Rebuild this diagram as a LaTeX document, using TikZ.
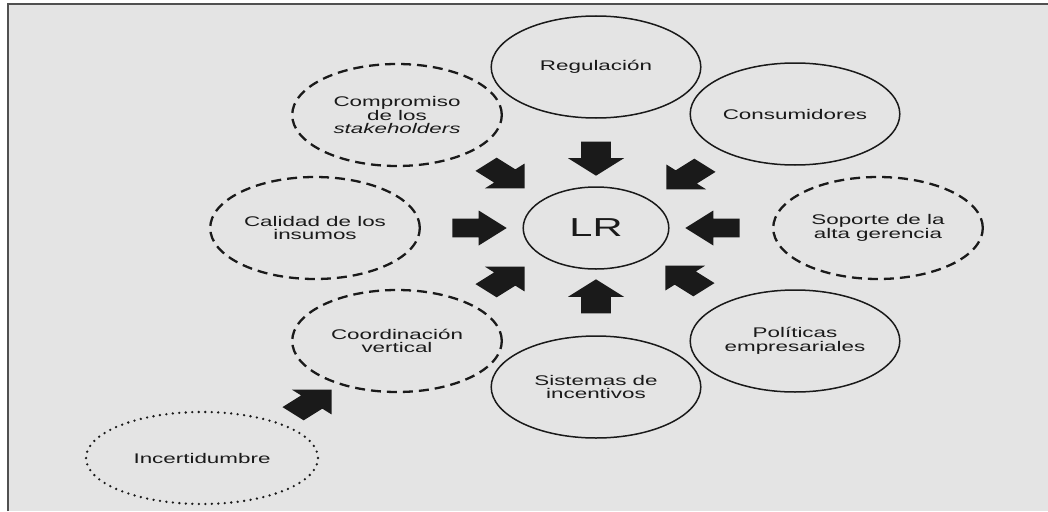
\documentclass[tikz,border=0pt]{standalone}
\usepackage{fontspec}
\setmainfont{Liberation Sans}
\usetikzlibrary{shapes.geometric,shapes.arrows}

\definecolor{bggray}{RGB}{228,228,228}
\definecolor{framegray}{RGB}{80,80,80}
\definecolor{ink}{RGB}{26,26,26}

\tikzset{
  factor/.style={ellipse, draw=ink, text=ink, line width=1.5pt, xscale=1.6,
    inner sep=0pt, minimum width=131pt, minimum height=102pt, align=center,
    font=\fontsize{14}{13.5}\selectfont},
  latent/.style={factor, line width=2.3pt, dash pattern=on 10pt off 6pt},
  blockarrow/.style={single arrow, fill=ink, draw=none, xscale=1.6,
    inner xsep=0pt, inner ysep=9pt, minimum width=35pt, minimum height=34pt,
    single arrow head extend=8pt, single arrow tip angle=90}
}

\begin{document}
\begin{tikzpicture}[x=1pt, y=-1pt]
    \useasboundingbox (0,0) rectangle (1048,511);
    \fill[white] (0,0) rectangle (1048,511);
    \fill[bggray] (8,4) rectangle (1048,511);
    \draw[framegray, line width=2pt] (8,511) -- (8,4) -- (1048,4);

    \node[factor, minimum width=91pt, minimum height=82pt,
      font=\fontsize{26}{26}\selectfont] (lr) at (596,228) {LR};

    \node[factor] (reg) at (596,67) {Regulación};
    \node[factor] (cons) at (795,114) {Consumidores};
    \node[latent] (comp) at (397,115) {Compromiso\\de los\\\textit{stakeholders}};
    \node[latent] (cal) at (315,228) {Calidad de los\\insumos};
    \node[latent] (sop) at (878,228) {Soporte de la\\alta gerencia};
    \node[latent] (coord) at (397,341) {Coordinación\\vertical};
    \node[factor] (sist) at (596,387) {Sistemas de\\incentivos};
    \node[factor] (pol) at (795,341) {Políticas\\empresariales};
    \node[latent, dash pattern=on 0pt off 6.5pt, line cap=round, line width=2.6pt,
      minimum width=145pt, minimum height=92pt] (inc) at (202,458) {Incertidumbre};

    \node[blockarrow, rotate=-90] (a-reg) at (596,154) {};
    \node[blockarrow, rotate=-45] (a-comp) at (500,173) {};
    \node[blockarrow, rotate=-135] (a-cons) at (691,174) {};
    \node[blockarrow] (a-cal) at (472,228) {};
    \node[blockarrow, rotate=180] (a-sop) at (720,228) {};
    \node[blockarrow, rotate=45] (a-coord) at (500,282) {};
    \node[blockarrow, rotate=135] (a-pol) at (690,281) {};
    \node[blockarrow, rotate=90] (a-sist) at (596,301) {};
    \node[blockarrow, rotate=45] (a-inc) at (307,405) {};

  \end{tikzpicture}
\end{document}
